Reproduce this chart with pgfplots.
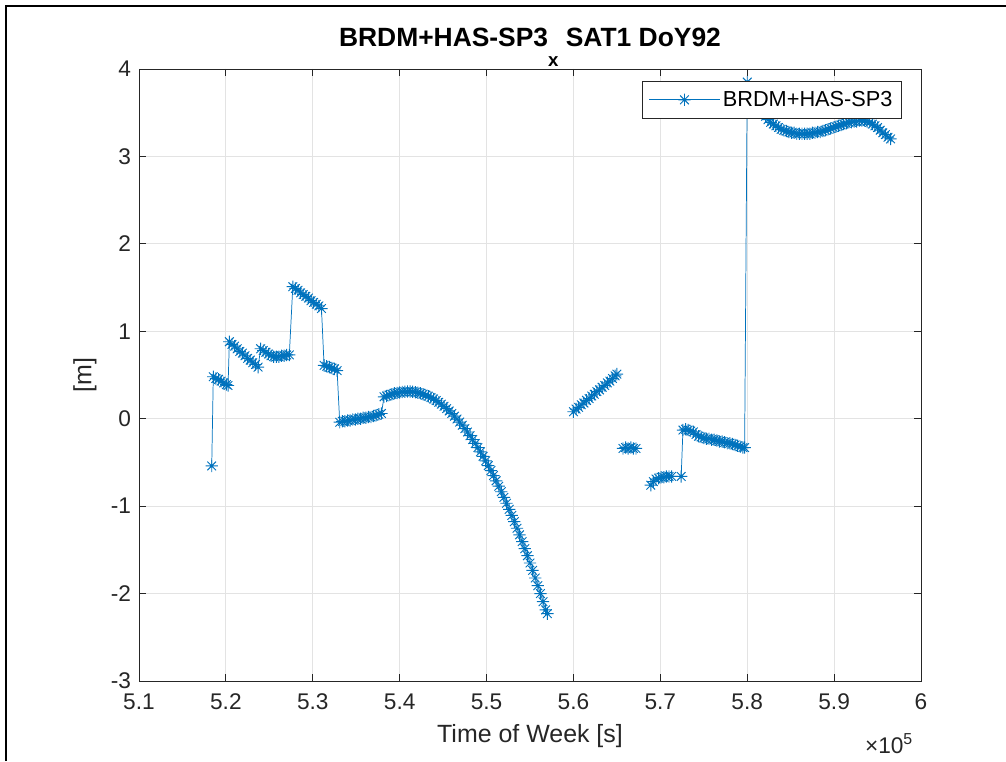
\documentclass[border=0pt]{standalone}
\usepackage{fontspec}
\setmainfont{Liberation Sans}
\usepackage{pgfplots}
\pgfplotsset{compat=1.18}
\definecolor{mblue}{HTML}{0072BD}
\definecolor{axgray}{HTML}{262626}
\definecolor{gridgray}{HTML}{E3E3E3}
\pgfdeclareplotmark{mstar}{%
  \pgfpathmoveto{\pgfqpoint{-\pgfplotmarksize}{0pt}}\pgfpathlineto{\pgfqpoint{\pgfplotmarksize}{0pt}}%
  \pgfpathmoveto{\pgfqpoint{0pt}{-\pgfplotmarksize}}\pgfpathlineto{\pgfqpoint{0pt}{\pgfplotmarksize}}%
  \pgfpathmoveto{\pgfqpoint{-0.707\pgfplotmarksize}{-0.707\pgfplotmarksize}}\pgfpathlineto{\pgfqpoint{0.707\pgfplotmarksize}{0.707\pgfplotmarksize}}%
  \pgfpathmoveto{\pgfqpoint{-0.707\pgfplotmarksize}{0.707\pgfplotmarksize}}\pgfpathlineto{\pgfqpoint{0.707\pgfplotmarksize}{-0.707\pgfplotmarksize}}%
  \pgfusepathqstroke}
\begin{document}
\begin{tikzpicture}
\begin{axis}[name=ax, scale only axis, width=586.5pt, height=459pt,
  xmin=510000, xmax=600000, ymin=-3, ymax=4,
  xtick={510000,520000,530000,540000,550000,560000,570000,580000,590000,600000},
  xticklabels={5.1,5.2,5.3,5.4,5.5,5.6,5.7,5.8,5.9,6},
  scaled x ticks=false,
  ytick={-3,-2,-1,0,1,2,3,4},
  yticklabels={-3,-2,-1,0,1,2,3,4},
  tick align=inside, major tick length=5pt,
  grid=major, grid style={gridgray, line width=0.6pt},
  axis line style={axgray, line width=0.7pt},
  every tick/.style={axgray, line width=0.7pt},
  ticklabel style={font=\fontsize{17}{20}\selectfont, text=axgray},
  xticklabel style={yshift=-6pt},
  yticklabel style={xshift=-2.5pt},
  xlabel={Time of Week [s]}, ylabel={[m]},
  label style={font=\fontsize{18.7}{22}\selectfont, text=axgray},
  xlabel style={at={(axis description cs:0.5,-0.09)}, anchor=center},
  ylabel style={at={(axis description cs:-0.069,0.5)}, anchor=center},
  title={BRDM+HAS-SP3\raisebox{-15pt}{\fontsize{14}{14}\selectfont x} SAT1 DoY92},
  title style={at={(axis description cs:0.5,1.024)}, anchor=base, font=\fontsize{19.8}{22}\selectfont\bfseries},
  unbounded coords=jump,
  legend style={at={(axis description cs:1,1)}, anchor=north east, xshift=-14.25pt, yshift=-9.2pt,
    draw=axgray, line width=0.6pt, font=\fontsize{16.3}{19}\selectfont, text=black,
    inner xsep=4.8pt, inner ysep=5.2pt, nodes={inner sep=2pt}},
  legend image code/.code={\draw[mark repeat=2,mark phase=2,#1] plot coordinates {(0pt,0pt) (26.5pt,0pt) (53pt,0pt)};},
]
\addplot[mblue, line width=0.55pt, mark=mstar, mark size=4.6pt, mark options={solid, line width=0.7pt}] coordinates {
(518370,-0.54)
(518550,0.48) (518850,0.46) (519150,0.45) (519450,0.43) (519750,0.41) (520050,0.39) (520250,0.38)
(520400,0.88) (520700,0.85) (521000,0.83) (521300,0.80) (521600,0.77) (521900,0.75) (522200,0.72) (522500,0.69) (522800,0.67) (523100,0.64) (523400,0.62) (523700,0.59)
(524000,0.80) (524300,0.78) (524600,0.76) (524900,0.74) (525200,0.72) (525500,0.71) (525800,0.71) (526100,0.71) (526400,0.72) (526700,0.72) (527000,0.73) (527300,0.73)
(527700,1.51) (528000,1.49) (528300,1.47) (528600,1.44) (528900,1.42) (529200,1.40) (529500,1.38) (529800,1.35) (530100,1.33) (530400,1.31) (530700,1.29) (531000,1.26)
(531300,0.61) (531600,0.60) (531900,0.59) (532200,0.58) (532500,0.57) (532800,0.55)
(533100,-0.04) (533400,-0.03) (533700,-0.03) (534000,-0.02) (534300,-0.02) (534600,-0.01) (534900,-0.01) (535200,0.00) (535500,0.00) (535800,0.01) (536100,0.01) (536400,0.02) (536700,0.02) (537000,0.03) (537300,0.04) (537600,0.05) (537900,0.06)
(538200,0.25) (538500,0.26) (538800,0.27) (539100,0.28) (539400,0.29) (539700,0.295) (540000,0.300) (540300,0.305) (540600,0.308) (540900,0.310) (541200,0.310) (541500,0.308) (541800,0.304) (542100,0.298) (542400,0.290) (542700,0.281) (543000,0.270) (543300,0.257) (543600,0.242) (543900,0.226) (544200,0.208) (544500,0.188) (544800,0.166) (545100,0.142) (545400,0.116) (545700,0.089) (546000,0.060) (546300,0.029) (546600,-0.004) (546900,-0.038) (547200,-0.074) (547500,-0.113) (547800,-0.152) (548100,-0.194) (548400,-0.238) (548700,-0.283) (549000,-0.330) (549300,-0.379) (549600,-0.430) (549900,-0.482) (550200,-0.536) (550500,-0.593) (550800,-0.650) (551100,-0.710) (551400,-0.772) (551700,-0.835) (552000,-0.900) (552300,-0.967) (552600,-1.036) (552900,-1.106) (553200,-1.178) (553500,-1.253) (553800,-1.328) (554100,-1.406) (554400,-1.486) (554700,-1.567) (555000,-1.650) (555300,-1.735) (555600,-1.822) (555900,-1.910) (556200,-2.000) (556500,-2.093) (556800,-2.186) (557000,-2.230)
(558500,nan)
(560000,0.08) (560300,0.11) (560600,0.13) (560900,0.16) (561200,0.18) (561500,0.21) (561800,0.23) (562100,0.26) (562400,0.28) (562700,0.31) (563000,0.33) (563300,0.36) (563600,0.38) (563900,0.41) (564200,0.43) (564500,0.46) (564800,0.49) (565000,0.51)
(565350,nan)
(565700,-0.34) (566000,-0.33) (566300,-0.34) (566600,-0.33) (566900,-0.34) (567200,-0.34)
(568000,nan)
(568900,-0.76) (569200,-0.72) (569500,-0.69) (569800,-0.68) (570100,-0.67) (570400,-0.67) (570700,-0.66) (571000,-0.66) (571300,-0.66) (572400,-0.66)
(572600,-0.13) (572900,-0.12) (573200,-0.13) (573500,-0.14) (573800,-0.15) (574100,-0.18) (574400,-0.20) (574700,-0.21) (575000,-0.22) (575300,-0.23) (575600,-0.23) (575900,-0.24) (576200,-0.24) (576500,-0.25) (576800,-0.26) (577100,-0.26) (577400,-0.27) (577700,-0.28) (578000,-0.28) (578300,-0.29) (578600,-0.30) (578900,-0.31) (579200,-0.32) (579500,-0.33) (579700,-0.33)
(580000,3.85) (580300,3.78) (580600,3.71) (580900,3.65) (581200,3.59) (581500,3.54) (581800,3.50) (582100,3.46) (582400,3.42) (582700,3.39) (583000,3.37) (583300,3.35) (583600,3.33) (583900,3.31) (584200,3.30) (584500,3.29) (584800,3.28) (585100,3.27) (585400,3.27) (585700,3.26) (586000,3.26) (586300,3.26) (586600,3.26) (586900,3.26) (587200,3.26) (587500,3.27) (587800,3.27) (588100,3.28) (588400,3.28) (588700,3.29) (589000,3.30) (589300,3.31) (589600,3.32) (589900,3.33) (590200,3.34) (590500,3.35) (590800,3.36) (591100,3.37) (591400,3.38) (591700,3.39) (592000,3.39) (592300,3.40) (592600,3.40) (592900,3.41) (593200,3.41) (593500,3.41) (593800,3.40) (594100,3.39) (594400,3.37) (594700,3.35) (595000,3.33) (595300,3.30) (595600,3.27) (595900,3.25) (596200,3.22) (596500,3.20)
};
\addlegendentry{BRDM+HAS-SP3}
\end{axis}
\node[anchor=base east, font=\fontsize{17}{20}\selectfont, text=axgray] at ([xshift=-2.5pt,yshift=-54pt]ax.south east) {×10\textsuperscript{5}};
\path[use as bounding box] ([xshift=-104.25pt,yshift=-60pt]ax.south west) rectangle ([xshift=63.75pt,yshift=51.75pt]ax.north east);
\draw[line width=1.5pt] ([xshift=-99.75pt,yshift=-60pt]ax.south west) -- ([xshift=-99.75pt,yshift=47.25pt]ax.north west) -- ([xshift=63.75pt,yshift=47.25pt]ax.north east);
\end{tikzpicture}
\end{document}
